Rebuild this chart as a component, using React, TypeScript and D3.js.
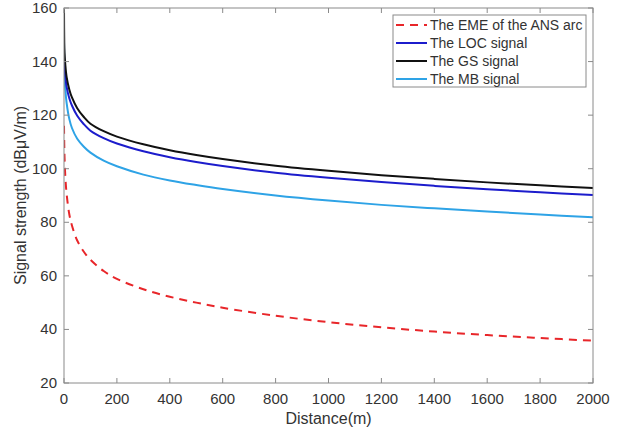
import React from "react";
import * as d3 from "d3";

const distances = [0, 1, 2, 5, 10, 20, 30, 50, 75, 100, 150, 200, 300, 400, 500, 600, 800, 1000, 1200, 1400, 1600, 1800, 2000];
const emeValues = [116, 109, 104.5, 97, 90.5, 83, 78.8, 73.2, 69, 66, 61.8, 58.9, 55, 52.2, 50.0, 48.1, 45.1, 42.7, 40.8, 39.2, 37.9, 36.8, 35.8];
const locValues = [142, 140, 138.5, 134.5, 130.5, 126.3, 123.6, 119.8, 116.6, 114.2, 111.4, 109.4, 106.5, 104.3, 102.5, 101.0, 98.5, 96.6, 95.0, 93.6, 92.3, 91.2, 90.2];
const gsValues = [159.5, 147, 143.5, 138.8, 134.2, 129.6, 126.6, 122.6, 119.3, 116.8, 114.0, 112.0, 109.1, 106.9, 105.1, 103.6, 101.1, 99.2, 97.6, 96.2, 94.9, 93.8, 92.8];
const mbValues = [148, 139, 135.5, 129.5, 124.5, 118.6, 115.2, 111.2, 108.2, 106.0, 103.0, 100.9, 97.8, 95.6, 93.9, 92.4, 90.0, 88.1, 86.5, 85.2, 84.0, 82.9, 81.9];

const seriesNames = ["The EME of the ANS arc", "The LOC signal", "The GS signal", "The MB signal"];
const seriesColors = ["#e8262a", "#1c1ccc", "#111111", "#2ea3e6"];
const seriesDash = ["8,6", null, null, null];

const xTicks = [0, 200, 400, 600, 800, 1000, 1200, 1400, 1600, 1800, 2000];
const yTicks = [20, 40, 60, 80, 100, 120, 140, 160];

export default function App() {
  const W = 624, H = 435;
  const left = 64, right = 593, top = 8, bottom = 383;
  const x = d3.scaleLinear().domain([0, 2000]).range([left, right]);
  const y = d3.scaleLinear().domain([20, 160]).range([bottom, top]);
  const allSeries = [emeValues, locValues, gsValues, mbValues];
  const line = d3.line<[number, number]>().x(d => x(d[0])).y(d => y(d[1])).curve(d3.curveCatmullRom.alpha(0.5));
  const axisColor = "#8a8a8a";
  const textColor = "#333";
  const font = "Liberation Sans, Arial, sans-serif";
  const drawOrder = [0, 3, 1, 2];

  return (
    <svg width={W} height={H} style={{ position: "absolute", left: 0, top: 0, background: "#fff" }} fontFamily={font}>
      <rect x={0} y={0} width={W} height={H} fill="#fff" />
      <defs>
        <clipPath id="plot"><rect x={left} y={top} width={right - left} height={bottom - top} /></clipPath>
      </defs>
      <g clipPath="url(#plot)">
        {drawOrder.map(i => (
          <path key={i}
            d={line(distances.map((d, j) => [d, allSeries[i][j]] as [number, number])) || ""}
            fill="none" stroke={seriesColors[i]} strokeWidth={2}
            strokeDasharray={seriesDash[i] || undefined} />
        ))}
      </g>
      <rect x={left} y={top} width={right - left} height={bottom - top} fill="none" stroke={axisColor} strokeWidth={1} />
      {xTicks.map(t => (
        <g key={"x" + t}>
          <line x1={x(t)} x2={x(t)} y1={bottom} y2={bottom - 5} stroke={axisColor} />
          <line x1={x(t)} x2={x(t)} y1={top} y2={top + 5} stroke={axisColor} />
          <text x={x(t)} y={bottom + 21} textAnchor="middle" fontSize={15} fill={textColor}>{t}</text>
        </g>
      ))}
      {yTicks.map(t => (
        <g key={"y" + t}>
          <line x1={left} x2={left + 5} y1={y(t)} y2={y(t)} stroke={axisColor} />
          <line x1={right} x2={right - 5} y1={y(t)} y2={y(t)} stroke={axisColor} />
          <text x={left - 7} y={y(t) + 5} textAnchor="end" fontSize={15} fill={textColor}>{t}</text>
        </g>
      ))}
      <text x={(left + right) / 2} y={424} textAnchor="middle" fontSize={16} fill={textColor}>Distance(m)</text>
      <text transform={`translate(26, ${(top + bottom) / 2}) rotate(-90)`} textAnchor="middle" fontSize={16} fill={textColor}>Signal strength (dBμV/m)</text>
      <g>
        <rect x={393} y={15} width={193} height={72} fill="#fff" stroke={axisColor} strokeWidth={1} />
        {seriesNames.map((n, i) => (
          <g key={n}>
            <line x1={396} x2={427} y1={25 + i * 18} y2={25 + i * 18} stroke={seriesColors[i]} strokeWidth={2}
              strokeDasharray={seriesDash[i] || undefined} />
            <text x={430} y={30 + i * 18} fontSize={14} fill={textColor}>{n}</text>
          </g>
        ))}
      </g>
    </svg>
  );
}
